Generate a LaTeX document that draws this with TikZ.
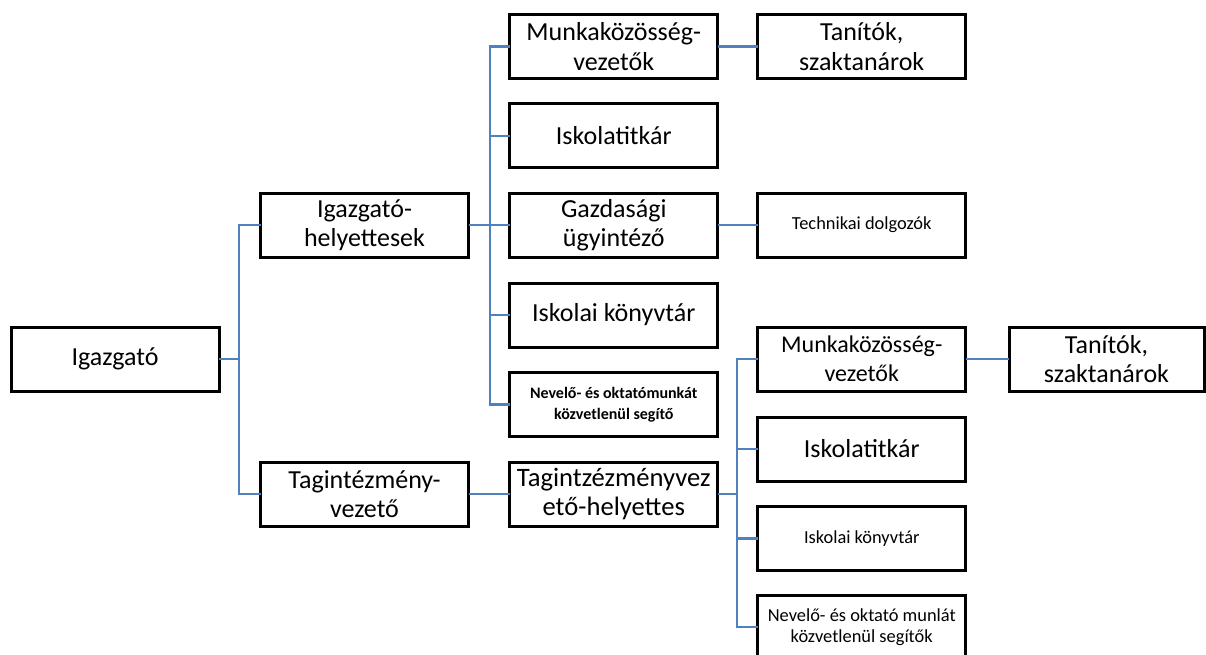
\documentclass[tikz,border=0pt]{standalone}
\usepackage{fontspec}
\setmainfont{Carlito}
\definecolor{linkblue}{RGB}{79,129,189}
\tikzset{
  box/.style={draw=black, line width=3pt, fill=white, align=center, inner sep=0pt, outer sep=0pt,
    minimum height=64pt, font=\fontsize{26}{29.5}\selectfont},
  wbox/.style={box, minimum width=208pt},
  nbox/.style={box, minimum width=195pt},
  bigtext/.style={font=\fontsize{26.6}{29.5}\selectfont},
  midtext/.style={font=\fontsize{24}{29}\selectfont},
  smalltext/.style={font=\fontsize{18.4}{20.5}\selectfont},
  boldtext/.style={font=\fontsize{16}{20.5}\selectfont\bfseries},
  link/.style={draw=linkblue, line width=2.8pt}
}
\begin{document}
\begin{tikzpicture}[x=1pt,y=-1pt]
\useasboundingbox (0,0) rectangle (1206,655);
% bracket points
\coordinate (b1) at (239,359);
\coordinate (b2) at (490,225);
\coordinate (b3) at (737,494);
% boxes
\node[wbox] (ig) at (115,359) {Igazgató};
\node[wbox] (ih) at (364.5,225) {Igazgató-\\helyettesek};
\node[wbox] (tv) at (364.5,494) {Tagintézmény-\\vezető};
\node[wbox] (mk1) at (613.75,46.5) {Munkaközösség-\\vezetők};
\node[wbox] (it1) at (613.75,136) {Iskolatitkár};
\node[wbox] (gu) at (613.75,225) {Gazdasági\\ügyintéző};
\node[wbox] (ik1) at (613.75,315) {Iskolai könyvtár};
\node[wbox, boldtext] (nv1) at (613.75,404.5) {Nevelő- és oktatómunkát\\közvetlenül segítő};
\node[wbox, bigtext] (th) at (613.75,494) {Tagintzézményvez\\ető-helyettes};
\node[wbox] (ta1) at (861.75,46.5) {Tanítók,\\szaktanárok};
\node[wbox, smalltext] (tech) at (861.75,225) {Technikai dolgozók};
\node[wbox, midtext] (mk2) at (861.75,359) {Munkaközösség-\\vezetők};
\node[wbox] (it2) at (861.75,449) {Iskolatitkár};
\node[wbox, smalltext] (ik2) at (861.75,538.5) {Iskolai könyvtár};
\node[wbox, smalltext] (nv2) at (861.75,627) {Nevelő- és oktató munlát\\közvetlenül segítők};
\node[nbox] (ta2) at (1106.5,359) {Tanítók,\\szaktanárok};
% connectors
\path[link] (ig.east) -- (b1);
\path[link] (b1) |- (ih.west);
\path[link] (b1) |- (tv.west);
\path[link] (ih.east) -- (b2);
\path[link] (b2) |- (mk1.west);
\path[link] (b2) |- (it1.west);
\path[link] (b2) -- (gu.west);
\path[link] (b2) |- (ik1.west);
\path[link] (b2) |- (nv1.west);
\path[link] (tv.east) -- (th.west);
\path[link] (th.east) -- (b3);
\path[link] (b3) |- (mk2.west);
\path[link] (b3) |- (it2.west);
\path[link] (b3) |- (ik2.west);
\path[link] (b3) |- (nv2.west);
\path[link] (mk1.east) -- (ta1.west);
\path[link] (gu.east) -- (tech.west);
\path[link] (mk2.east) -- (ta2.west);
\end{tikzpicture}
\end{document}
